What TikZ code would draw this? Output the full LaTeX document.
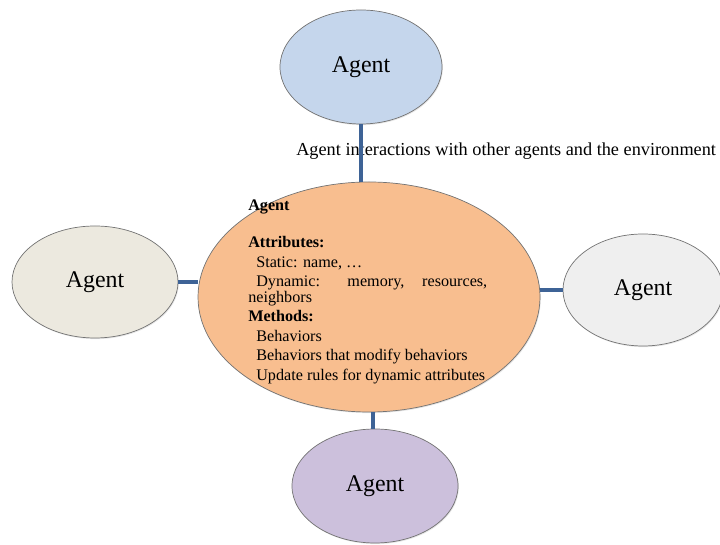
\documentclass[tikz,border=0pt]{standalone}
\usepackage{fontspec}
\setmainfont{Liberation Serif}
\usepackage{tikz}
\usetikzlibrary{shapes.geometric,shadows}

\definecolor{agentblue}{RGB}{197,214,236}
\definecolor{agentbeige}{RGB}{236,233,223}
\definecolor{agentgrey}{RGB}{239,239,239}
\definecolor{agentlilac}{RGB}{204,192,220}
\definecolor{agentpeach}{RGB}{248,190,143}
\definecolor{linkblue}{RGB}{62,99,150}

\begin{document}
\begin{tikzpicture}
					\tikzstyle{agent}=[ellipse,draw=black!55,line width=0.5pt,inner sep=0pt,font=\fontsize{17}{19}\selectfont,drop shadow={opacity=0.2,shadow xshift=0.6pt,shadow yshift=-0.8pt}]
					\tikzstyle{link}=[draw=linkblue,line width=2.4pt]
					\useasboundingbox (0,0) rectangle (18,13.625);
					\node[agent,fill=agentblue,minimum width=4.05cm,minimum height=2.85cm] (top) at (9.025,11.95) {Agent};
					\node[agent,fill=agentbeige,minimum width=4.15cm,minimum height=2.8cm] (left) at (2.375,6.575) {Agent};
					\node[agent,fill=agentgrey,minimum width=4.0cm,minimum height=2.8cm] (right) at (16.075,6.375) {Agent};
					\node[agent,fill=agentlilac,minimum width=4.15cm,minimum height=2.85cm] (bottom) at (9.375,1.475) {Agent};
					\node[agent,fill=agentpeach,minimum width=8.55cm,minimum height=5.75cm] (core) at (9.225,6.2) {};
					\node[anchor=north west,inner sep=0pt,text width=5.975cm,align=justify,font=\fontsize{11.5}{13.9}\selectfont] (body) at (6.2,8.63) {%
						\setlength{\parindent}{0pt}%
						\textbf{Agent}\par
						\vspace{12.4pt}%
						\textbf{Attributes:}\par
						\hspace*{5.7pt}Static: name, \ldots\par
						\hspace*{5.7pt}Dynamic: memory, resources,\vspace{-3pt}\linebreak neighbors\par
						\textbf{Methods:}\par
						\hspace*{5.7pt}Behaviors\par
						\hspace*{5.7pt}Behaviors that modify behaviors\par
						\hspace*{5.7pt}Update rules for dynamic attributes};
					\node[anchor=west,inner sep=0pt,font=\fontsize{13}{15}\selectfont] (note) at (7.4,9.85) {Agent interactions with other agents and the environment};
					\draw[link] (top.south) -- (top.south |- core.north);
					\draw[link] (left.east) -- (left.east -| core.west);
					\draw[link] (right.west) -- (right.west -| core.east);
					\draw[link] (core.-88.5) -- (bottom.north -| core.-88.5);
\end{tikzpicture}
\end{document}
